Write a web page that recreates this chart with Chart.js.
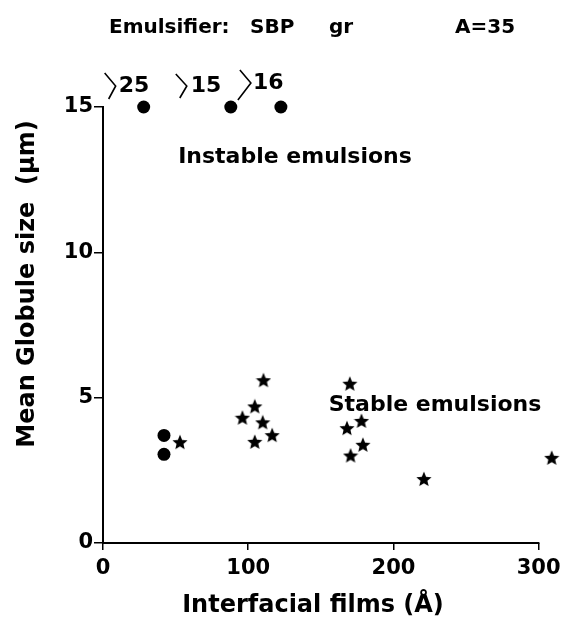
<!DOCTYPE html>
<html>
<head>
<meta charset="utf-8">
<script src="https://cdn.jsdelivr.net/npm/chart.js@4.4.1/dist/chart.umd.min.js"></script>
<style>
  html, body { margin: 0; padding: 0; background: #fff; }
  #wrap { width: 567px; height: 618px; }
</style>
</head>
<body>
<div id="wrap"><canvas id="c" width="567" height="618"></canvas></div>
<script>
// ---- data ----
const circleX = [28, 88, 122.5, 42, 42];
const circleY = [15, 15, 15, 3.7, 3.05];
const offScaleIdx = [0, 1, 2];
const offScaleLabels = ['25', '15', '16'];

const starX = [53, 110.5, 104.5, 96, 110, 116.5, 104.5, 170, 178, 168, 179, 170.5, 221, 309];
const starY = [3.47, 5.6, 4.7, 4.31, 4.15, 3.71, 3.48, 5.48, 4.2, 3.95, 3.38, 3.01, 2.2, 2.93];

const xTicks = [0, 100, 200, 300];
const yTicks = [0, 5, 10, 15];

const titleLeft = 'Emulsifier:';
const titleMid = 'SBP';
const titleGr = 'gr';
const titleRight = 'A=35';
const xTitle = 'Interfacial films (Å)';
const yTitle = 'Mean Globule size  (µm)';
const noteTop = 'Instable emulsions';
const noteBottom = 'Stable emulsions';

const FONT = '"DejaVu Sans", "Liberation Sans", sans-serif';

// filled five-pointed star marker
function makeStar(size) {
  const c = document.createElement('canvas');
  c.width = size; c.height = size;
  const g = c.getContext('2d');
  const cx = size / 2, cy = size / 2 + 0.6, R = size / 2, r = R * 0.45;
  g.beginPath();
  for (let i = 0; i < 10; i++) {
    const a = -Math.PI / 2 + i * Math.PI / 5;
    const rr = i % 2 === 0 ? R : r;
    const px = cx + rr * Math.cos(a), py = cy + rr * Math.sin(a);
    if (i === 0) g.moveTo(px, py); else g.lineTo(px, py);
  }
  g.closePath();
  g.fillStyle = '#000';
  g.fill();
  return c;
}
const starImg = makeStar(16);

const axisPlugin = {
  id: 'xaxisline',
  beforeDatasetsDraw(chart) {
    const ctx = chart.ctx;
    const xs = chart.scales.x, ys = chart.scales.y;
    const y0 = ys.getPixelForValue(0);
    ctx.save();
    ctx.strokeStyle = '#000';
    ctx.lineWidth = 2;
    ctx.beginPath();
    ctx.moveTo(xs.getPixelForValue(0) - 1, y0);
    ctx.lineTo(xs.getPixelForValue(xTicks[xTicks.length - 1]) + 0.75, y0);
    ctx.stroke();
    ctx.restore();
  }
};

const textPlugin = {
  id: 'texts',
  afterDraw(chart) {
    const ctx = chart.ctx;
    const xs = chart.scales.x;
    ctx.save();
    ctx.fillStyle = '#000';
    ctx.strokeStyle = '#000';
    ctx.textBaseline = 'alphabetic';
    ctx.textAlign = 'left';

    // title
    ctx.font = 'bold 20px ' + FONT;
    ctx.fillText(titleLeft, 109, 33);
    ctx.fillText(titleMid, 250, 33);
    ctx.fillText(titleGr, 329, 33);
    ctx.fillText(titleRight, 455, 33);

    // off-scale markers
    const brackets = [
      {dx: -28, top: 73, tip: 86, bot: 99, back: -40, tx: -25, ty: 92},
      {dx: -44, top: 74, tip: 86, bot: 98, back: -56, tx: -40, ty: 92},
      {dx: -30, top: 70, tip: 83, bot: 100, back: -48, tx: -28, ty: 89}
    ];
    ctx.lineWidth = 1.6;
    ctx.font = 'bold 22px ' + FONT;
    offScaleIdx.forEach((idx, k) => {
      const px = xs.getPixelForValue(circleX[idx]);
      const b = brackets[k];
      ctx.beginPath();
      ctx.moveTo(px + b.dx - 11, b.top);
      ctx.lineTo(px + b.dx, b.tip);
      ctx.lineTo(px + b.back + 5, b.bot);
      ctx.stroke();
      ctx.fillText(offScaleLabels[k], px + b.tx, b.ty);
    });

    // region notes
    ctx.font = 'bold 22px ' + FONT;
    ctx.textAlign = 'center';
    ctx.textBaseline = 'middle';
    ctx.fillText(noteTop, 295, 157);
    ctx.fillText(noteBottom, 435, 405);

    // axis titles
    ctx.font = 'bold 24px ' + FONT;
    ctx.fillText(xTitle, 313, 606);
    ctx.translate(28, 284);
    ctx.rotate(-Math.PI / 2);
    ctx.font = 'bold 24px ' + FONT;
    ctx.fillText(yTitle, 0, 0);
    ctx.restore();
  }
};

const toPoints = (xs, ys) => xs.map((x, i) => ({x: x, y: ys[i]}));

new Chart(document.getElementById('c'), {
  type: 'scatter',
  data: {
    datasets: [
      {
        label: 'circles',
        data: toPoints(circleX, circleY),
        pointStyle: 'circle',
        pointRadius: 6.5,
        backgroundColor: '#000',
        borderColor: '#000',
        borderWidth: 0,
        clip: false
      },
      {
        label: 'stars',
        data: toPoints(starX, starY),
        pointStyle: starImg,
        pointRadius: 8,
        clip: false
      }
    ]
  },
  options: {
    responsive: false,
    animation: false,
    devicePixelRatio: 1,
    layout: { padding: { top: 107, right: 13.5, left: 0, bottom: 0 } },
    plugins: { legend: { display: false }, tooltip: { enabled: false }, title: { display: false } },
    events: [],
    scales: {
      x: {
        type: 'linear',
        min: 0, max: 310,
        afterBuildTicks: s => { s.ticks = xTicks.map(v => ({value: v})); },
        afterFit: s => { s.height = 75; },
        grid: { display: true, drawOnChartArea: false, drawTicks: true, tickLength: 7, color: '#000', lineWidth: 1.5 },
        border: { display: false },
        ticks: { color: '#000', font: { family: FONT, size: 21, weight: 'bold' }, padding: 6, maxRotation: 0 }
      },
      y: {
        type: 'linear',
        min: 0, max: 15,
        afterBuildTicks: s => { s.ticks = yTicks.map(v => ({value: v})); },
        afterFit: s => { s.width = 103; },
        grid: { display: true, drawOnChartArea: false, drawTicks: true, tickLength: 9, color: '#000', lineWidth: 1.5 },
        border: { display: true, color: '#000', width: 2 },
        ticks: { color: '#000', font: { family: FONT, size: 21, weight: 'bold' }, padding: 1 }
      }
    }
  },
  plugins: [axisPlugin, textPlugin]
});
</script>
</body>
</html>
